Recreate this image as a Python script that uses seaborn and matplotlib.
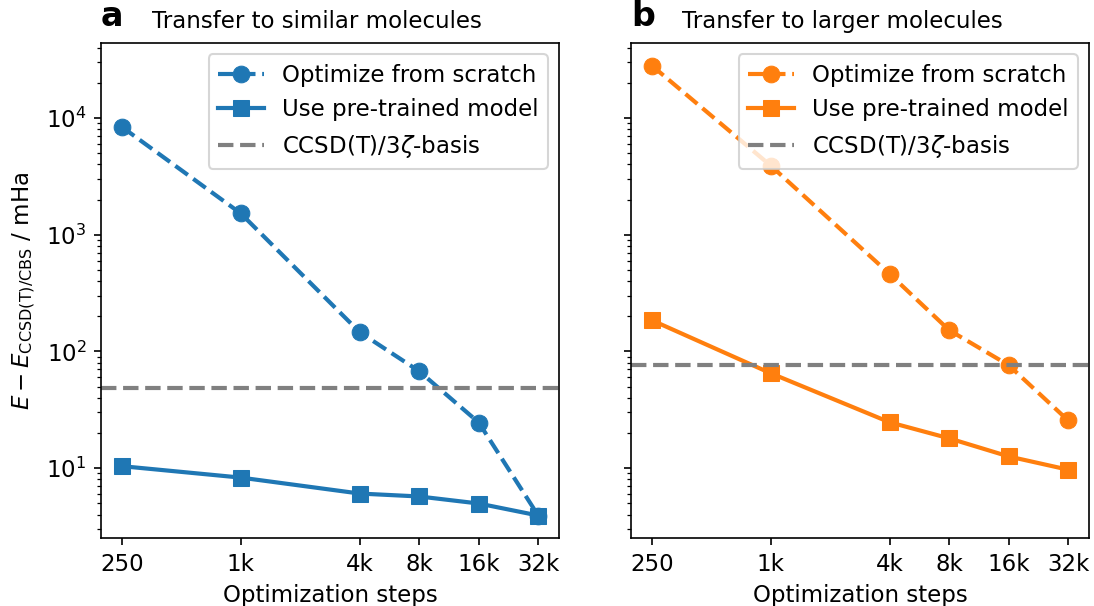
import numpy as np
import pandas as pd
import matplotlib
matplotlib.use("Agg")
import matplotlib.pyplot as plt
from matplotlib.ticker import FixedLocator, FixedFormatter, NullLocator
import seaborn as sns

# ---- data ----
steps = [250, 1000, 4000, 8000, 16000, 32000]
step_labels = ["250", "1k", "4k", "8k", "16k", "32k"]

similar_scratch = [8380, 1520, 146, 67.6, 24.6, 3.93]
similar_pretrained = [10.4, 8.3, 6.06, 5.72, 4.98, 3.93]
similar_ccsd = 48.3

larger_scratch = [28100, 3900, 460, 152, 76.2, 25.6]
larger_pretrained = [185, 65, 24.7, 18.0, 12.6, 9.7]
larger_ccsd = 76.0

panel_letters = ["a", "b"]
panel_titles = ["Transfer to similar molecules", "Transfer to larger molecules"]
legend_labels = ["Optimize from scratch", "Use pre-trained model", r"CCSD(T)/3$\zeta$-basis"]
xlabel = "Optimization steps"
ylabel = r"$E - E_\mathrm{CCSD(T)/CBS}$ / mHa"

colors = ["#1f77b4", "#ff7f0e"]
ref_color = "#808080"

panels = [
    (similar_scratch, similar_pretrained, similar_ccsd),
    (larger_scratch, larger_pretrained, larger_ccsd),
]

plt.rcParams["font.family"] = ["DejaVu Sans"]
plt.rcParams["font.size"] = 11

fig, axes = plt.subplots(1, 2, figsize=(1094 / 150, 606 / 150), dpi=150, sharey=True)
fig.subplots_adjust(left=0.0923, right=0.9954, top=0.929, bottom=0.1122, wspace=0.157)

for i, ax in enumerate(axes):
    scratch, pre, ccsd = panels[i]
    c = colors[i]
    ax.set_xscale("log", base=2)
    ax.set_yscale("log")
    df_s = pd.DataFrame({"steps": steps, "err": scratch})
    df_p = pd.DataFrame({"steps": steps, "err": pre})
    sns.lineplot(data=df_s, x="steps", y="err", ax=ax, color=c, linestyle="--",
                 marker="o", markersize=8, markeredgecolor=c, markeredgewidth=0.5,
                 linewidth=2, label=legend_labels[0])
    sns.lineplot(data=df_p, x="steps", y="err", ax=ax, color=c, linestyle="-",
                 marker="s", markersize=8, markeredgecolor=c, markeredgewidth=0.5,
                 linewidth=2, label=legend_labels[1])
    ax.axhline(ccsd, color=ref_color, linestyle="--", linewidth=2, label=legend_labels[2])

    ax.xaxis.set_major_locator(FixedLocator(steps))
    ax.xaxis.set_major_formatter(FixedFormatter(step_labels))
    ax.xaxis.set_minor_locator(NullLocator())
    ax.set_xlabel(xlabel)
    ax.set_ylabel(ylabel)
    ax.yaxis.set_tick_params(labelleft=True if i == 0 else False)
    ax.legend(loc="upper right")

    ax.text(0.0, 1.02, panel_letters[i], transform=ax.transAxes, fontsize=16,
            fontweight="bold", ha="left", va="bottom")
    ax.text(0.111, 1.02, panel_titles[i], transform=ax.transAxes, fontsize=11,
            ha="left", va="bottom")

fig.savefig("out.png", dpi=150)
